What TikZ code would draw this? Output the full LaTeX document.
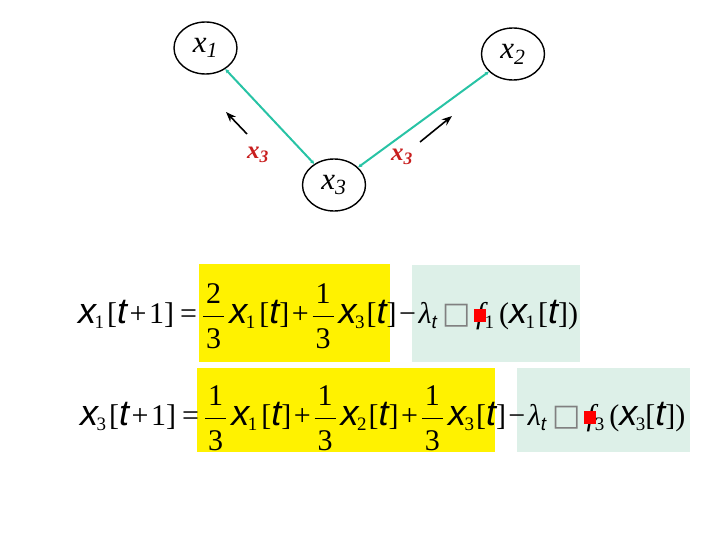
\documentclass[tikz,border=0pt]{standalone}
\usepackage{fontspec}
\usepackage{amsmath}
\usepackage{tikz}
\usetikzlibrary{arrows.meta, positioning, shapes.geometric}
\setmainfont{Liberation Serif}
\newfontfamily\sansf[Scale=1.2]{Liberation Sans}
\newfontfamily\sansg{Liberation Sans}
\newfontfamily\symf{DejaVu Sans}
\definecolor{linkgreen}{RGB}{40,195,165}
\definecolor{boxgreen}{RGB}{221,240,232}
\definecolor{labred}{RGB}{200,30,30}
\newcommand{\sub}[1]{\raisebox{-5pt}{\fontsize{19}{19}\selectfont #1}}
\newcommand{\vx}[1]{{\sansf\itshape x}\kern-1.5pt\sub{#1}}
\newcommand{\vt}{{\sansf\itshape t}}
\newcommand{\fr}[2]{$\displaystyle\frac{\kern3pt\raisebox{3pt}{\mbox{#1}}\kern3pt}{\raisebox{-8pt}[\height][9pt]{\mbox{#2}}}$\kern4pt}
\newcommand{\redsq}{\llap{\textcolor{red}{\rule[0.05em]{0.4em}{0.42em}}\kern-0.05em}}
\newcommand{\op}[1]{\kern2.5pt#1\kern2.5pt}

\begin{document}
\begin{tikzpicture}[x=1pt, y=-1pt, >=Stealth,
  agent/.style={draw, line width=1.4pt, ellipse, minimum width=63pt, minimum height=52pt, inner sep=0pt, font=\fontsize{31}{32}\selectfont\itshape},
  link/.style={{Stealth[length=4pt,width=4pt]}-{Stealth[length=4pt,width=4pt]}, linkgreen, line width=2pt},
  move/.style={->, line width=1.6pt},
  msg/.style={text=labred, font=\fontsize{25}{26}\selectfont\bfseries\itshape},
  avgbox/.style={fill=yellow, inner sep=0pt},
  gradbox/.style={fill=boxgreen, inner sep=0pt},
  eq/.style={anchor=base west, inner sep=0pt, font=\fontsize{30}{36}\selectfont}]
  \useasboundingbox (0,0) rectangle (720,540);
  \node[agent] (x1) at (205.5,48) {\raisebox{-6pt}{x\textsubscript{1}}};
  \node[agent] (x2) at (513,54) {\raisebox{-6pt}{x\textsubscript{2}}};
  \node[agent] (x3) at (334,185) {\raisebox{-6pt}{x\textsubscript{3}}};
  \draw[link] (x3) -- (x1);
  \draw[link] (x3) -- (x2);
  \coordinate (m1s) at (247,134);
  \coordinate (m1e) at (226,112);
  \coordinate (m2s) at (420,142);
  \coordinate (m2e) at (452,116);
  \draw[move] (m1s) -- (m1e);
  \draw[move] (m2s) -- (m2e);
  \node[msg] (lab1) at (258,155) {x\textsubscript{3}};
  \node[msg] (lab2) at (402,157) {x\textsubscript{3}};
  \node[avgbox, minimum width=191pt, minimum height=98pt] (avg1) at (294.5,313) {};
  \node[gradbox, minimum width=168pt, minimum height=97pt] (grad1) at (496,313.5) {};
  \node[avgbox, minimum width=298pt, minimum height=84pt] (avg2) at (346,410) {};
  \node[gradbox, minimum width=173pt, minimum height=84pt] (grad2) at (603.5,410) {};
  \node[eq] (eq1) at (78,323) {\vx{1}\kern3pt[\vt\op{+}1]\kern6pt=\kern5pt\fr{2}{3}\vx{1}\kern4pt[\vt]\op{+}\fr{1}{3}\vx{3}\kern2pt[\vt]\op{−}{\itshape λ}\sub{\sansg\itshape t}\kern6pt{\symf\color{gray}□}\kern5pt{\itshape f}\redsq\sub{1}\kern5pt(\vx{1}\kern3pt[\vt])};
  \node[eq] (eq2) at (80,425) {\vx{3}\kern3pt[\vt\op{+}1]\kern6pt=\kern5pt\fr{1}{3}\vx{1}\kern4pt[\vt]\op{+}\fr{1}{3}\vx{2}\kern2pt[\vt]\op{+}\fr{1}{3}\vx{3}\kern2pt[\vt]\op{−}{\itshape λ}\sub{\sansg\itshape t}\kern6pt{\symf\color{gray}□}\kern6pt{\itshape f}\redsq\sub{3}\kern5pt(\vx{3}[\vt])};
\end{tikzpicture}
\end{document}
